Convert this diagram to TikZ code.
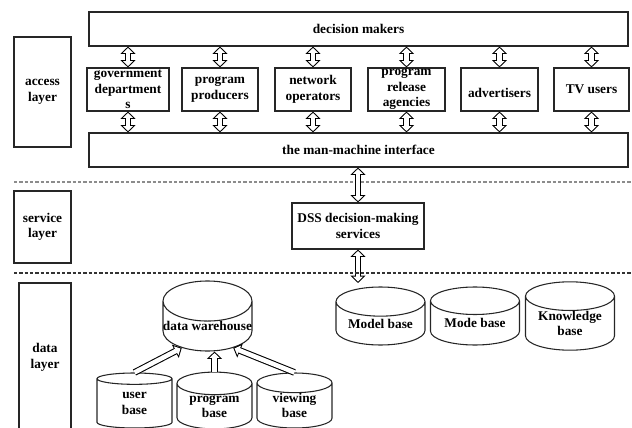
\documentclass[tikz,border=0pt]{standalone}
\usepackage{fontspec}
\setmainfont{Liberation Serif}
\usetikzlibrary{arrows.meta,shapes.geometric}

\begin{document}
\begin{tikzpicture}[
    x=0.75pt, y=-0.75pt,
    font=\fontsize{10}{11.6}\selectfont\bfseries,
    box/.style={rectangle, draw=black!85, line width=0.8pt, align=center, inner sep=1pt},
    layer/.style={box, minimum width=42.75pt},
    agent/.style={box, inner sep=0pt, minimum width=57pt, minimum height=32.25pt},
    base/.style={cylinder, shape border rotate=90, draw=black!85, line width=0.8pt, aspect=0.45,
        anchor=shape center, align=center, inner sep=0pt, minimum width=66.75pt, minimum height=43.5pt},
    smallbase/.style={base, minimum width=56.25pt, minimum height=41.25pt},
    twoway/.style={line width=3.4pt, white,
        {Triangle[width=7.4pt,length=3.7pt]}-{Triangle[width=7.4pt,length=3.7pt]},
        shorten <=1.1pt, shorten >=1.1pt,
        preaction={draw=black, line width=5pt,
            {Triangle[width=11pt,length=5.5pt]}-{Triangle[width=11pt,length=5.5pt]},
            shorten <=0pt, shorten >=0pt}},
    oneway/.style={line width=3.4pt, white,
        -{Triangle[width=7.4pt,length=3.7pt]}, shorten >=1.1pt,
        preaction={draw=black, line width=5pt,
            -{Triangle[width=11pt,length=5.5pt]}, shorten >=0pt}},
    sep/.style={dashed, dash pattern=on 2.5pt off 1.5pt, line width=0.8pt}
]
    \useasboundingbox (0,0) rectangle (632,428);

    % Access layer
    \node (acc) [layer, minimum height=82.5pt] at (42.5,92) {access\\layer};
    \node (dm) [box, minimum width=404.25pt, minimum height=25.5pt] at (358.5,29) {decision makers};

    \node (gov) [agent, minimum width=61.5pt] at (128,89.5) {government\\department\\s};
    \node (pp) [agent] at (220,89.5) {program\\producers};
    \node (no) [agent] at (313,89.5) {network\\operators};
    \node (pra) [agent, minimum width=57.75pt] at (406.5,89.5) {program\\release\\agencies};
    \node (adv) [agent, minimum width=57.75pt] at (499.5,89.5) {\mbox{}\\advertisers};
    \node (tv) [agent, minimum width=56.25pt] at (591.5,89.5) {TV users};

    \node (mmi) [box, minimum width=404.25pt, minimum height=25.5pt] at (358.5,150) {the man-machine interface};

    \foreach \n in {gov,pp,no,pra,adv,tv} {
        \draw[twoway] (\n.north |- dm.south) -- (\n.north);
        \draw[twoway] (\n.south) -- (\n.south |- mmi.north);
    }

    % Service layer
    \draw[sep, black!45] (14,182) -- (632,182);
    \node (svc) [layer, minimum height=54pt] at (42.5,227) {service\\layer};
    \node (dss) [box, minimum width=99pt, minimum height=34.5pt] at (358,226) {DSS decision-making\\services};
    \coordinate (dsslink) at (358,283);

    \draw[twoway] (dss.north |- mmi.south) -- (dss.north);
    \draw[twoway] (dss.south) -- (dsslink);

    % Data layer
    \draw[sep, black!80] (14,273) -- (632,273);
    \node (dat) [layer, minimum width=39pt, minimum height=111.75pt] at (45,357.5) {data\\layer};

    \node (dw) [base] at (207.5,316) {data warehouse};
    \node (mb) [base] at (380.5,316) {Model base};
    \node (mob) [base] at (475,316) {Mode base};
    \node (kb) [base] at (570,316) {Knowledge\\base};

    \node (ub) [smallbase] at (134.5,400.5) {user\\base};
    \node (pb) [smallbase] at (214.5,400.5) {program\\base};
    \node (vb) [smallbase] at (294.5,400.5) {viewing\\base};

    \draw[oneway] (ub.north) -- (dw.220);
    \draw[oneway] (pb.north) -- (pb.north |- dw.south);
    \draw[oneway] (vb.north) -- (dw.320);

\end{tikzpicture}
\end{document}
